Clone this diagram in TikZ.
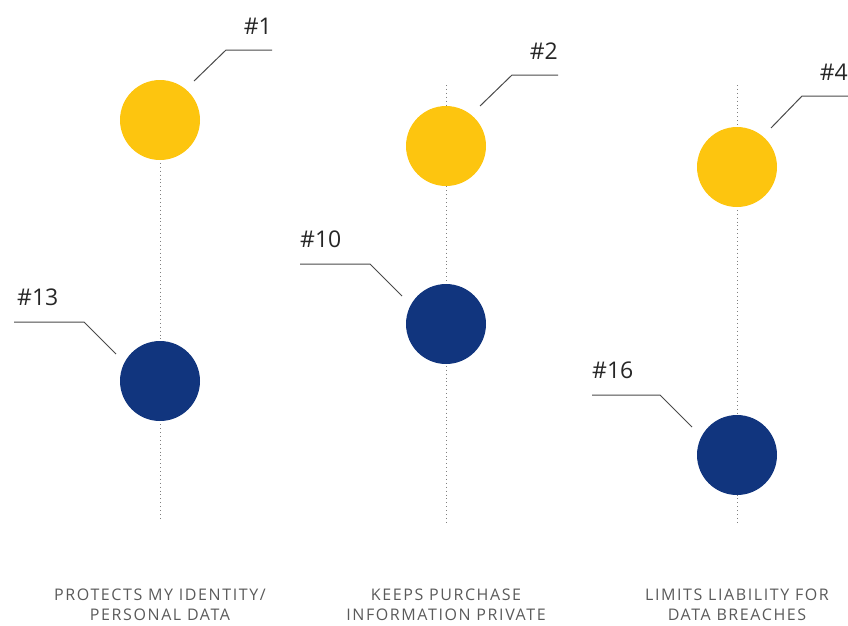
\documentclass[tikz,border=0pt]{standalone}
\usepackage{fontspec}
\setmainfont{Open Sans}
\newfontfamily\capfont[LetterSpace=10]{Open Sans}
\usetikzlibrary{positioning}
\definecolor{rankyellow}{HTML}{FDC50F}
\definecolor{rankblue}{HTML}{11357E}
\definecolor{leadergray}{HTML}{4A4A4A}
\definecolor{capgray}{HTML}{5A5A5A}
\tikzset{
  dot/.style={circle, minimum size=80pt, inner sep=0pt},
  yellowdot/.style={dot, fill=rankyellow},
  bluedot/.style={dot, fill=rankblue},
  axisline/.style={gray, line width=0.9pt, dash pattern=on 0.9pt off 3pt},
  leader/.style={leadergray, line width=1pt},
  tag/.style={text=black!85, inner sep=0pt, font=\fontsize{23}{26}\selectfont},
  caption/.style={text=capgray, align=center, font=\capfont\fontsize{16}{20}\selectfont}
}
\begin{document}
\begin{tikzpicture}[x=1pt, y=-1pt]
  \useasboundingbox (0,0) rectangle (848,625);

  % dotted axes, behind the dots
  \coordinate (top1) at (160,120);
  \coordinate (bot1) at (160,520);
  \coordinate (top2) at (446,85);
  \coordinate (bot2) at (446,525);
  \coordinate (top3) at (737,85);
  \coordinate (bot3) at (737,525);
  \draw[axisline] (top1) -- (bot1);
  \draw[axisline] (top2) -- (bot2);
  \draw[axisline] (top3) -- (bot3);

  % the dots
  \node[yellowdot] (first) at (160,120) {};
  \node[bluedot] (thirteenth) at (160,381) {};
  \node[yellowdot] (second) at (446,146) {};
  \node[bluedot] (tenth) at (446,324) {};
  \node[yellowdot] (fourth) at (737,167) {};
  \node[bluedot] (sixteenth) at (737,455) {};

  % rank tags
  \coordinate (e1) at (272,50);
  \coordinate (e2) at (558,75);
  \coordinate (e4) at (848,96);
  \coordinate (e13) at (14,322);
  \coordinate (e10) at (300,264);
  \coordinate (e16) at (592,395);
  \node[tag, anchor=base east] (t1) at ([shift={(0,-16)}]e1) {\#1};
  \node[tag, anchor=base east] (t2) at ([shift={(0,-16)}]e2) {\#2};
  \node[tag, anchor=base east] (t4) at ([shift={(0,-16)}]e4) {\#4};
  \node[tag, anchor=base west] (t13) at ([shift={(3,-17)}]e13) {\#13};
  \node[tag, anchor=base west] (t10) at ([shift={(0,-17)}]e10) {\#10};
  \node[tag, anchor=base west] (t16) at ([shift={(0,-17)}]e16) {\#16};

  \draw[leader] ([shift={(34,-39)}]first.center) -- ++(32,-31) -- (e1);
  \draw[leader] ([shift={(34,-40)}]second.center) -- ++(32,-31) -- (e2);
  \draw[leader] ([shift={(34,-39)}]fourth.center) -- ++(31,-32) -- (e4);
  \draw[leader] ([shift={(-44,-27)}]thirteenth.center) -- ++(-32,-32) -- (e13);
  \draw[leader] ([shift={(-44,-28)}]tenth.center) -- ++(-32,-32) -- (e10);
  \draw[leader] ([shift={(-45,-28)}]sixteenth.center) -- ++(-32,-32) -- (e16);

  % captions
  \node[caption] (c1) at (160,605) {PROTECTS MY IDENTITY/\\PERSONAL DATA};
  \node[caption] (c2) at (446,605) {KEEPS PURCHASE\\INFORMATION PRIVATE};
  \node[caption] (c3) at (737,605) {LIMITS LIABILITY FOR\\DATA BREACHES};
\end{tikzpicture}
\end{document}
